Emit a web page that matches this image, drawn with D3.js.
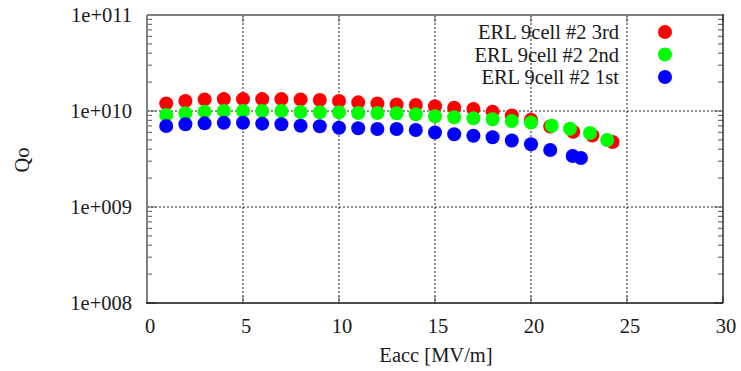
<!DOCTYPE html>
<html><head><meta charset="utf-8">
<script src="https://cdn.jsdelivr.net/npm/d3@7"></script>
<style>body{margin:0;background:#fff}svg{display:block}text{font-family:"Liberation Serif","Times New Roman",serif;fill:#1a1a1a}</style>
</head><body><svg id="c" width="741" height="371"></svg>
<script>
const seriesNames = ["ERL 9cell #2 3rd", "ERL 9cell #2 2nd", "ERL 9cell #2 1st"];
const seriesColors = ["#ff0000", "#00ff00", "#0000ff"];
const x3rd = [1,2,3,4,5,6,7,8,9,10,11,12,13,14,15,16,17,18,19,20,21,22.2,23.2,24.25];
const q3rd = [1.20e10,1.27e10,1.32e10,1.33e10,1.33e10,1.33e10,1.33e10,1.32e10,1.30e10,1.27e10,1.23e10,1.20e10,1.17e10,1.155e10,1.12e10,1.08e10,1.05e10,9.84e9,8.98e9,8.12e9,6.90e9,6.09e9,5.56e9,4.75e9];
const x2nd = [1,2,3,4,5,6,7,8,9,10,11,12,13,14,15,16,17,18,19,20,21.08,22.03,23.07,23.97];
const q2nd = [9.08e9,9.46e9,9.84e9,1.0e10,1.0e10,1.0e10,1.0e10,9.77e9,9.7e9,9.7e9,9.53e9,9.53e9,9.46e9,9.24e9,8.81e9,8.6e9,8.4e9,8.2e9,7.87e9,7.59e9,7.03e9,6.53e9,5.90e9,4.99e9];
const x1st = [1,2,3,4,5,6,7,8,9,10,11,12,13,14,15,16,17,18,19,20,21,22.17,22.6];
const q1st = [6.98e9,7.27e9,7.44e9,7.55e9,7.55e9,7.38e9,7.27e9,7.03e9,6.93e9,6.70e9,6.6e9,6.49e9,6.49e9,6.34e9,5.97e9,5.72e9,5.53e9,5.32e9,4.93e9,4.51e9,3.92e9,3.40e9,3.24e9];
const xTicks = [0,5,10,15,20,25,30];
const yTicks = [1e8,1e9,1e10,1e11];
const yTickLabels = ["1e+008","1e+009","1e+010","1e+011"];
const xTitle = "Eacc [MV/m]";
const yTitle = "Qo";

const svg = d3.select("#c");
const L = 147, R = 723, T = 15, B = 303;
const x = d3.scaleLinear().domain([0,30]).range([L,R]);
const y = d3.scaleLog().domain([1e8,1e11]).range([B,T]);

// grid
const g = svg.append("g");
g.selectAll("line.gx").data(xTicks.filter(d=>d>0&&d<30)).join("line")
  .attr("x1",d=>x(d)).attr("x2",d=>x(d)).attr("y1",T).attr("y2",B)
  .attr("stroke","#222").attr("stroke-width",1).attr("stroke-dasharray","2,2");
g.selectAll("line.gy").data(yTicks.filter(d=>d>1e8&&d<1e11)).join("line")
  .attr("x1",L).attr("x2",R).attr("y1",d=>y(d)).attr("y2",d=>y(d))
  .attr("stroke","#222").attr("stroke-width",1).attr("stroke-dasharray","2,2");

// minor ticks on y (log)
const minor = [];
for (let e=8; e<11; e++) for (let m=2; m<=9; m++) minor.push(m*Math.pow(10,e));
const tk = svg.append("g").attr("stroke","#555").attr("stroke-width",1);
tk.selectAll("line.ml").data(minor).join("line").attr("x1",L).attr("x2",L+5).attr("y1",d=>y(d)).attr("y2",d=>y(d));
tk.selectAll("line.mr").data(minor).join("line").attr("x1",R).attr("x2",R-5).attr("y1",d=>y(d)).attr("y2",d=>y(d));
tk.selectAll("line.Ml").data(yTicks).join("line").attr("x1",L).attr("x2",L+9).attr("y1",d=>y(d)).attr("y2",d=>y(d));
tk.selectAll("line.Mr").data(yTicks).join("line").attr("x1",R).attr("x2",R-9).attr("y1",d=>y(d)).attr("y2",d=>y(d));
tk.selectAll("line.Mb").data(xTicks).join("line").attr("x1",d=>x(d)).attr("x2",d=>x(d)).attr("y1",B).attr("y2",B-7);
tk.selectAll("line.Mt").data(xTicks).join("line").attr("x1",d=>x(d)).attr("x2",d=>x(d)).attr("y1",T).attr("y2",T+7);

// frame
svg.append("line").attr("x1",L).attr("x2",R).attr("y1",T).attr("y2",T).attr("stroke","#808080").attr("stroke-width",2);
svg.append("line").attr("x1",L).attr("x2",L).attr("y1",T).attr("y2",B).attr("stroke","#808080").attr("stroke-width",2);
svg.append("line").attr("x1",L-1).attr("x2",R).attr("y1",B).attr("y2",B).attr("stroke","#111").attr("stroke-width",1.3);
svg.append("line").attr("x1",R).attr("x2",R).attr("y1",T-1).attr("y2",B).attr("stroke","#111").attr("stroke-width",1.3);

// tick labels
svg.selectAll("text.xt").data(xTicks).join("text")
  .attr("x",d=>x(d)+3).attr("y",333).attr("text-anchor","middle")
  .attr("font-size","20.5px").text(d=>d);
svg.selectAll("text.yt").data(yTicks).join("text")
  .attr("x",132).attr("y",d=>y(d)+7).attr("text-anchor","end")
  .attr("font-size","20.5px").text((d,i)=>yTickLabels[i]);

// titles
svg.append("text").attr("x",436).attr("y",362).attr("text-anchor","middle").attr("font-size","20.5px").text(xTitle);
svg.append("text").attr("transform","translate(29,160) rotate(-90)").attr("text-anchor","middle").attr("font-size","20.5px").text(yTitle);

// data
const series = [[x3rd,q3rd],[x2nd,q2nd],[x1st,q1st]];
series.forEach((s,i)=>{
  const pts = s[0].map((xv,j)=>[xv,s[1][j]]);
  svg.append("g").selectAll("circle").data(pts).join("circle")
    .attr("cx",d=>x(d[0])).attr("cy",d=>y(d[1])).attr("r",7).attr("fill",seriesColors[i]);
});

// legend
const lg = svg.append("g");
seriesNames.forEach((n,i)=>{
  const yy = 32 + i*22.5;
  lg.append("text").attr("x",619).attr("y",yy+7).attr("text-anchor","end").attr("font-size","20.5px").text(n);
  lg.append("circle").attr("cx",665).attr("cy",yy).attr("r",7).attr("fill",seriesColors[i]);
});
</script></body></html>
